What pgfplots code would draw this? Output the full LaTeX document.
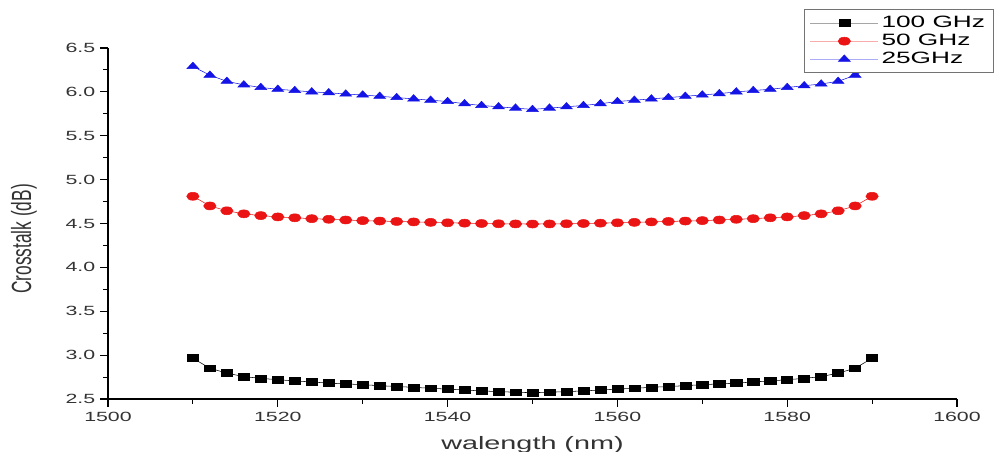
\documentclass[border=0pt]{standalone}
\usepackage{pgfplots}
\usepackage{pgfplotstable}
\pgfplotsset{compat=1.18}
\usepackage{fontspec}
\setmainfont{Liberation Sans}
\definecolor{oblue}{RGB}{20,20,230}
\definecolor{ored}{RGB}{235,20,20}
\pgfplotstableread{
w black red blue
1510 2.965 4.81 6.29
1512 2.85 4.70 6.19
1514 2.795 4.645 6.12
1516 2.755 4.61 6.08
1518 2.735 4.59 6.05
1520 2.72 4.575 6.03
1522 2.705 4.565 6.015
1524 2.695 4.555 6.00
1526 2.68 4.548 5.99
1528 2.672 4.54 5.975
1530 2.663 4.533 5.965
1532 2.652 4.528 5.95
1534 2.642 4.523 5.935
1536 2.633 4.518 5.92
1538 2.622 4.513 5.905
1540 2.613 4.508 5.89
1542 2.602 4.504 5.865
1544 2.592 4.50 5.845
1546 2.584 4.497 5.83
1548 2.577 4.495 5.815
1550 2.572 4.494 5.80
1552 2.577 4.495 5.815
1554 2.584 4.497 5.83
1556 2.592 4.50 5.845
1558 2.602 4.504 5.865
1560 2.613 4.508 5.89
1562 2.622 4.513 5.905
1564 2.633 4.518 5.92
1566 2.642 4.523 5.935
1568 2.652 4.528 5.95
1570 2.663 4.533 5.965
1572 2.672 4.54 5.98
1574 2.68 4.548 6.00
1576 2.695 4.555 6.015
1578 2.705 4.565 6.03
1580 2.72 4.575 6.05
1582 2.735 4.59 6.07
1584 2.755 4.61 6.09
1586 2.795 4.645 6.12
1588 2.85 4.70 6.19
1590 2.965 4.81 6.29
}\datatable
\begin{document}
\begin{tikzpicture}
\begin{axis}[
  name=ax,
  scale only axis,
  width=636.75pt, height=263.25pt,
  xmin=1500, xmax=1600, ymin=2.5, ymax=6.5,
  axis x line*=bottom, axis y line*=left,
  axis line style={line width=1pt, black},
  xtick={1500,1520,1540,1560,1580,1600}, minor x tick num=1,
  ytick={2.5,3.0,3.5,4.0,4.5,5.0,5.5,6.0,6.5}, minor y tick num=1,
  tick align=outside,
  major tick length=6pt, minor tick length=3.5pt,
  tick style={line width=0.8pt, black},
  /pgf/number format/assume math mode=true,
  xticklabel={\scalebox{1.6}[1]{\pgfmathprintnumber[set thousands separator={}]{\tick}}},
  yticklabel={\scalebox{1.6}[1]{\pgfmathprintnumber[fixed,fixed zerofill,precision=1]{\tick}}},
  ticklabel style={font=\fontsize{10}{12}\selectfont, text=black!80},
  xlabel={\scalebox{1.6}[1]{walength (nm)}},
  xlabel style={at={(axis description cs:0.5,-0.1425)}, anchor=base, font=\fontsize{13.5}{15}\selectfont, text=black!80},
  ylabel={\scalebox{1}[1.6]{Crosstalk (dB)}},
  ylabel style={at={(axis description cs:-0.099,0.4558)}, anchor=center, font=\fontsize{13}{15}\selectfont, text=black!80},
  legend style={at={(axis description cs:0.8198,1.111)}, anchor=north west,
    draw=black!55, line width=0.7pt, fill=white, inner xsep=4pt, inner ysep=3.5pt,
    font=\fontsize{12.3}{13}\selectfont, row sep=0pt,
    nodes={text height=8.8pt, text depth=2.2pt, inner ysep=1.25pt, inner xsep=2pt}},
  legend cell align=left,
  legend image code/.code={\draw[draw opacity=0.35, line width=0.8pt] (0pt,0pt) -- (51pt,0pt);
    \draw plot[only marks] coordinates {(25.5pt,0pt)};},
]
\addplot[black, line width=0.4pt, mark=square*, mark size=2.6pt, mark options={solid, xscale=1.6, fill=black}] table[x=w,y=black]{\datatable};
\addlegendentry{\scalebox{1.6}[1]{100 GHz}}
\addplot[ored, line width=0.4pt, mark=*, mark size=3pt, mark options={solid, xscale=1.55, fill=ored}] table[x=w,y=red]{\datatable};
\addlegendentry{\scalebox{1.6}[1]{50 GHz}}
\addplot[oblue, line width=0.4pt, mark=triangle*, mark size=3.2pt, mark options={solid, xscale=1.6, fill=oblue}] table[x=w,y=blue]{\datatable};
\addlegendentry{\scalebox{1.6}[1]{25GHz}}
\end{axis}
\pgfresetboundingbox
\path ([shift={(-81pt,-39.75pt)}]ax.south west) rectangle ([shift={(672pt,299.25pt)}]ax.south west);
\end{tikzpicture}
\end{document}
